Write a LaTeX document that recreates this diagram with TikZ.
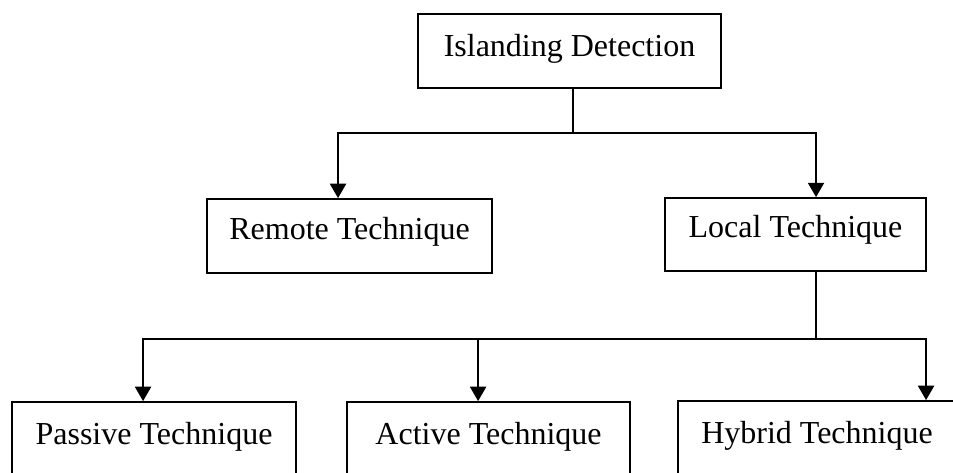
\documentclass[tikz,border=0pt]{standalone}
\usepackage{fontspec}
\setmainfont{Liberation Serif}
\usetikzlibrary{arrows.meta}
\begin{document}
\begin{tikzpicture}
      [
      x=0.375pt, y=-0.375pt,
      box/.style={rectangle,draw,line width=0.6pt,inner ysep=0pt,text height=15.8pt,text depth=12pt,font=\fontsize{12}{14}\selectfont},
      conn/.style={line width=0.8pt},
      arr/.style={conn,-{Triangle[length=5.4pt,width=6pt]}}
      ]
      \useasboundingbox (0,0) rectangle (953,473);
      \clip (0,0) rectangle (953,473);
      \node (top) at (569.5,51) [box, minimum width=113.6pt] {Islanding Detection};
      \node (remote) at (349.5,236) [box, minimum width=106.9pt, text height=15.4pt, text depth=12.4pt] {Remote Technique};
      \node (local) at (795.5,234.5) [box, minimum width=97.9pt, text height=15pt, text depth=12.4pt] {Local Technique};
      \node (passive) at (154,439) [box, minimum width=106.5pt] {Passive Technique};
      \node (active) at (488.5,439) [box, minimum width=106.1pt] {Active Technique};
      \node (hybrid) at (817,438) [box, minimum width=104.3pt] {Hybrid Technique};
      \coordinate (j1) at (573,133);
      \coordinate (j2) at (816,339);
      \draw [conn] (top.south -| j1) to (j1);
      \draw [arr] (j1) -| ([xshift=-4.3pt]remote.north);
      \draw [arr] (j1) -| ([xshift=7.7pt]local.north);
      \draw [conn] (local.south -| j2) to (j2);
      \draw [arr] (j2) -| ([xshift=-4.1pt]passive.north);
      \draw [arr] (j2) -| ([xshift=-3.9pt]active.north);
      \draw [arr] (j2) -| ([xshift=40.9pt]hybrid.north);
    \end{tikzpicture}
\end{document}
